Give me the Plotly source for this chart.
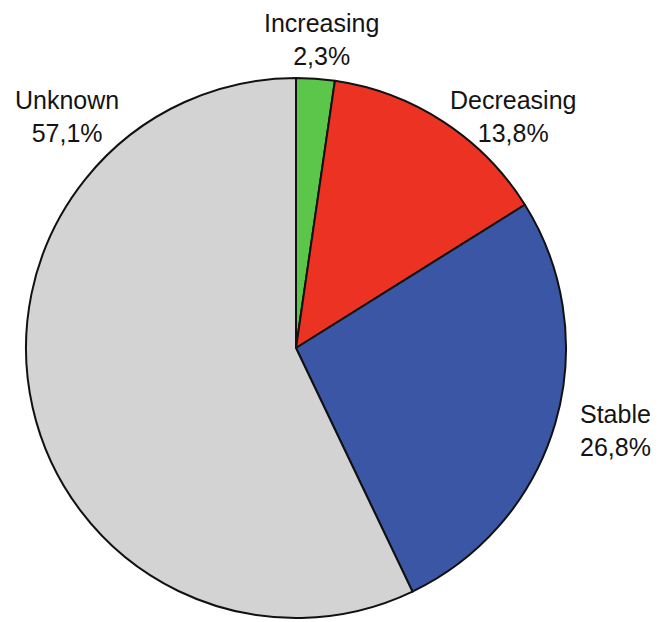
import plotly.graph_objects as go

labels = ["Increasing", "Decreasing", "Stable", "Unknown"]
values = [2.3, 13.8, 26.8, 57.1]
value_text = ["2,3%", "13,8%", "26,8%", "57,1%"]
colors = ["#5cc64b", "#ec3323", "#3c56a6", "#d3d3d3"]

# page body has an 8px margin; figure sized to fit the window exactly
OFF = 8
W, H = 672 - OFF, 622 - OFF

# label block centres (window pixels from top-left)
label_pos = [(321, 39), (513, 117), (615, 430), (67, 117)]

# pie bounding box in window pixels: left, right, top, bottom
pl, pr, pt, pb = 26, 566, 78, 618

fig = go.Figure(go.Pie(
    labels=labels,
    values=values,
    sort=False,
    direction="clockwise",
    rotation=0,
    marker=dict(colors=colors, line=dict(color="#111111", width=2)),
    textinfo="none",
    hoverinfo="label+percent",
    showlegend=False,
    domain=dict(x=[(pl - OFF) / W, (pr - OFF) / W],
                y=[(H - (pb - OFF)) / H, (H - (pt - OFF)) / H]),
))

for lab, vt, (px, py) in zip(labels, value_text, label_pos):
    fig.add_annotation(
        x=(px - OFF) / W, y=1 - (py - OFF) / H, xref="paper", yref="paper",
        text=f"{lab}<br>{vt}", showarrow=False,
        xanchor="center", yanchor="middle", align="center",
        font=dict(family="Liberation Sans, Arial, sans-serif", size=25, color="#141414"),
    )

fig.update_layout(
    width=W, height=H,
    margin=dict(l=0, r=0, t=0, b=0),
    paper_bgcolor="white", plot_bgcolor="white",
)

fig.write_html("out.html")
